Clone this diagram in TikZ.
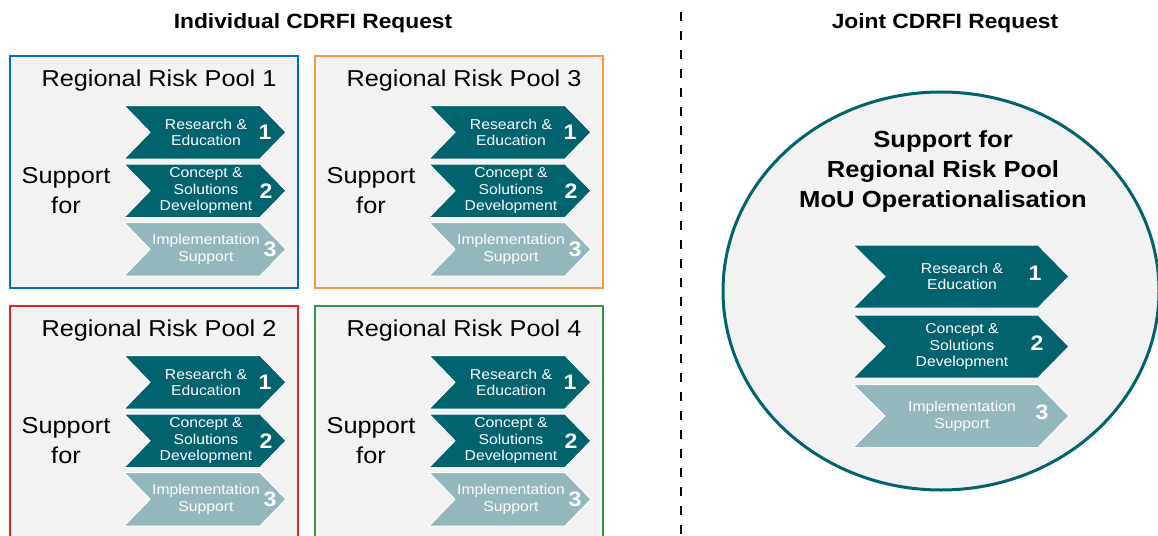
\documentclass[tikz,border=0pt]{standalone}
\usepackage{fontspec}
\setmainfont{Liberation Sans}[FakeStretch=1.1]

\definecolor{stepdark}{RGB}{0,99,110}
\definecolor{steplight}{RGB}{147,183,188}
\definecolor{panelgray}{RGB}{242,242,242}
\definecolor{poolblue}{RGB}{0,112,192}
\definecolor{poolorange}{RGB}{247,150,70}
\definecolor{poolred}{RGB}{232,30,36}
\definecolor{poolgreen}{RGB}{52,150,72}

\tikzset{
  pool/.style={fill=panelgray, line width=2pt},
  pooltitle/.style={font=\fontsize{23}{28}\selectfont},
  support/.style={align=center, font=\fontsize{23}{30}\selectfont},
  steptext/.style={text=white, align=center, inner sep=0pt, font=\fontsize{14.3}{16.7}\selectfont},
  stepnum/.style={text=white, inner sep=0pt, font=\bfseries\fontsize{21}{24}\selectfont},
  header/.style={font=\bfseries\fontsize{20.7}{24}\selectfont},
  jointtitle/.style={align=center, font=\bfseries\fontsize{23.3}{30}\selectfont},
  divider/.style={line width=2.2pt, dash pattern=on 9pt off 10pt},
  joint/.style={fill=panelgray, draw=stepdark, line width=3pt}
}

\begin{document}
\begin{tikzpicture}[x=1pt, y=-1pt]

\useasboundingbox (0,0) rectangle (1158,535);
\clip (0,0) rectangle (1158,535);

% headers and divider
\node[header] (indiv) at (313,23) {Individual CDRFI Request};
\node[header] (jointhead) at (945,23) {Joint CDRFI Request};
\draw[divider] (681,12) -- (681,540);

% the four pool panels
\foreach \px/\py/\ph/\pcol/\pnum in {10/56/232/poolblue/1, 315/56/232/poolorange/3, 10/306/240/poolred/2, 315/306/240/poolgreen/4}
{
  \begin{scope}[shift={(\px,\py)}]
    \draw[pool, draw=\pcol] (0,0) rectangle (288,\ph);
    \node[pooltitle] (title\pnum) at (149,25) {Regional Risk Pool \pnum};
    \node[support] (support\pnum) at (56,135) {Support\\for};
    \foreach \sy/\scol/\sx/\snum/\stext in {49.5/stepdark/255/1/{Research \&\\Education}, 108/stepdark/256/2/{Concept \&\\Solutions\\Development}, 166.5/steplight/260/3/{Implementation\\Support}}
    {
      \fill[\scol, draw=white, line width=1pt] (114,\sy) -- (250,\sy) -- (276,\sy+26.75) -- (250,\sy+53.5) -- (114,\sy+53.5) -- (140,\sy+26.75) -- cycle;
      \node[steptext] (text\pnum-\snum) at (196,\sy+26.75) {\stext};
      \node[stepnum] (num\pnum-\snum) at (\sx,\sy+26.75) {\snum};
    }
  \end{scope}
}

% joint request
\draw[joint] (941,291) ellipse [x radius=218, y radius=199];
\node[jointtitle] (jointtitle) at (943,171) {Support for\\Regional Risk Pool\\MoU Operationalisation};

\foreach \sy/\scol/\sx/\snum/\stext in {245/stepdark/1035/1/{Research \&\\Education}, 315/stepdark/1037/2/{Concept \&\\Solutions\\Development}, 384.5/steplight/1042/3/{Implementation\\Support}}
{
  \fill[\scol, draw=white, line width=1pt] (853,\sy) -- (1038,\sy) -- (1069,\sy+31.5) -- (1038,\sy+63) -- (853,\sy+63) -- (885,\sy+31.5) -- cycle;
  \node[steptext] (jtext\snum) at (962,\sy+31.5) {\stext};
  \node[stepnum] (jnum\snum) at (\sx,\sy+28) {\snum};
}

\end{tikzpicture}
\end{document}
